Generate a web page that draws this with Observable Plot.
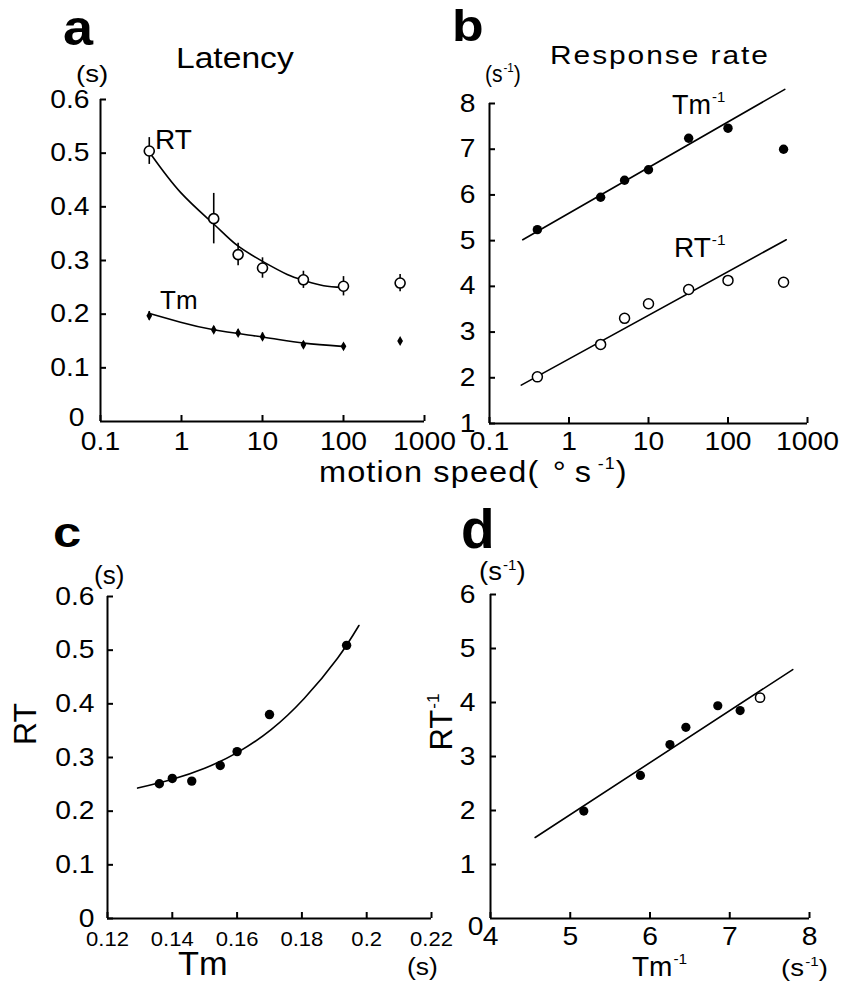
<!DOCTYPE html>
<html>
<head>
<meta charset="utf-8">
<script src="https://cdn.jsdelivr.net/npm/d3@7"></script>
<script src="https://cdn.jsdelivr.net/npm/@observablehq/plot@0.6"></script>
<style>
html, body { margin: 0; padding: 0; background: #fff; }
#fig { position: relative; width: 843px; height: 983px; overflow: hidden; background: #fff; color: #000;
       font-family: 'Liberation Sans', Arial, Helvetica, sans-serif; }
#fig svg { position: absolute; overflow: visible; max-width: none; background: transparent; }
.note { position: absolute; line-height: 0.72; white-space: nowrap; transform-origin: left top; }
.sup { font-size: 0.55em; position: relative; top: -0.78em; margin-left: 1px; }
</style>
</head>
<body>
<div id="fig"></div>
<script>
// ---------- data ----------
// panel a / b : motion speed (deg/s)
const speeds = [0.4, 2.5, 5, 10, 32, 100, 500];
// panel a : latency (s)
const rtLatency = [0.504, 0.378, 0.311, 0.286, 0.264, 0.252, 0.258];
const rtLatencyErr = [0.025, 0.047, 0.021, 0.019, 0.016, 0.018, 0.016];
const tmLatency = [0.197, 0.171, 0.165, 0.158, 0.143, 0.140, 0.150];
const tmLatencyErr = [0.008, 0.006, 0.006, 0.007, 0.006, 0.004, 0];
const rtFitSpeed = [0.414, 0.973, 2.5, 4.88, 10.4, 20.2, 32.4, 57, 96];
const rtFitLatency = [0.499, 0.427, 0.368, 0.328, 0.297, 0.274, 0.263, 0.253, 0.250];
const tmFitSpeed = [0.414, 0.973, 2.5, 10.4, 32.4, 96];
const tmFitLatency = [0.2007, 0.185, 0.171, 0.157, 0.146, 0.140];
// panel b : response rate (1/s)
const tmRate = [5.24, 5.95, 6.32, 6.55, 7.24, 7.46, 7.00];
const rtRate = [2.02, 2.73, 3.30, 3.62, 3.93, 4.13, 4.09];
const tmRateFitSpeed = [0.262, 518];
const tmRateFit = [5.02, 8.31];
const rtRateFitSpeed = [0.251, 540];
const rtRateFit = [1.84, 5.02];
// panel c : RT vs Tm (s)
const cTm = [0.136, 0.140, 0.146, 0.1548, 0.160, 0.170, 0.1938];
const cRT = [0.251, 0.261, 0.256, 0.285, 0.311, 0.380, 0.509];
const cFitTm = [0.1293, 0.1398, 0.150, 0.1603, 0.1705, 0.1807, 0.191, 0.1976];
const cFitRT = [0.243, 0.259, 0.280, 0.310, 0.352, 0.410, 0.485, 0.546];
// panel d : RT^-1 vs Tm^-1 (1/s)
const dTmRate = [5.17, 5.88, 6.25, 6.45, 6.85, 7.13];
const dRtRate = [1.99, 2.65, 3.22, 3.54, 3.94, 3.85];
const dOpenTmRate = [7.38];
const dOpenRtRate = [4.09];
const dFitTmRate = [4.56, 7.79];
const dFitRtRate = [1.50, 4.61];
// tick labels
const speedTicks = [0.1, 1, 10, 100, 1000];
const latencyTicks = [0, 0.1, 0.2, 0.3, 0.4, 0.5, 0.6];
const rateTicks = [1, 2, 3, 4, 5, 6, 7, 8];
const tmTicks = [0.12, 0.14, 0.16, 0.18, 0.2, 0.22];
const dXTicks = [4, 5, 6, 7, 8];
const dYTicks = [0, 1, 2, 3, 4, 5, 6];

// ---------- tables ----------
const latencyRows = speeds.map((s, i) => ({speed: s, rt: rtLatency[i], rtErr: rtLatencyErr[i], tm: tmLatency[i], tmErr: tmLatencyErr[i]}));
const rtFitRows = rtFitSpeed.map((s, i) => ({speed: s, v: rtFitLatency[i]}));
const tmFitRows = tmFitSpeed.map((s, i) => ({speed: s, v: tmFitLatency[i]}));
const rateRows = speeds.map((s, i) => ({speed: s, tm: tmRate[i], rt: rtRate[i]}));
const tmRateFitRows = tmRateFitSpeed.map((s, i) => ({speed: s, v: tmRateFit[i]}));
const rtRateFitRows = rtRateFitSpeed.map((s, i) => ({speed: s, v: rtRateFit[i]}));
const cRows = cTm.map((t, i) => ({tm: t, rt: cRT[i]}));
const cFitRows = cFitTm.map((t, i) => ({tm: t, rt: cFitRT[i]}));
const dRows = dTmRate.map((t, i) => ({tm: t, rt: dRtRate[i]}));
const dOpenRows = dOpenTmRate.map((t, i) => ({tm: t, rt: dOpenRtRate[i]}));
const dFitRows = dFitTmRate.map((t, i) => ({tm: t, rt: dFitRtRate[i]}));

// ---------- helpers ----------
const fig = document.getElementById("fig");
const FONT = "'Liberation Sans', Arial, Helvetica, sans-serif";
const fmt = d => String(d);
const baseStyle = {fontFamily: FONT, fontSize: "25px", background: "transparent", overflow: "visible", color: "black"};

function place(svg, left, top, kx = 1.13, ky = 1.13) {
  svg.style.position = "absolute";
  svg.style.left = left + "px";
  svg.style.top = top + "px";
  fig.appendChild(svg);
  const widen = (sel, k) => svg.querySelectorAll(sel).forEach(t => {
    const L = t.getComputedTextLength();
    t.setAttribute("textLength", (L * k).toFixed(2));
    t.setAttribute("lengthAdjust", "spacingAndGlyphs");
  });
  widen('g[aria-label="x-axis tick label"] text', kx);
  widen('g[aria-label="y-axis tick label"] text', ky);
}

// baseline offset for line-height 0.72 with Liberation Sans metrics
const BASE = (0.72 - 1.117) / 2 + 0.905;
function note(html, x, base, size, opt = {}) {
  const d = document.createElement("div");
  d.className = "note";
  d.innerHTML = html;
  d.style.left = x + "px";
  d.style.top = (base - BASE * size) + "px";
  d.style.fontSize = size + "px";
  d.style.fontWeight = opt.bold ? "bold" : "normal";
  if (opt.ls) d.style.letterSpacing = opt.ls + "px";
  d.style.transform = `scaleX(${opt.sx || 1})`;
  fig.appendChild(d);
}
function vnote(html, cx, cy, size, sx = 1) {
  const d = document.createElement("div");
  d.className = "note";
  d.style.lineHeight = "1";
  d.innerHTML = html;
  d.style.left = cx + "px";
  d.style.top = cy + "px";
  d.style.fontSize = size + "px";
  d.style.transformOrigin = "center center";
  d.style.transform = `translate(-50%, -50%) rotate(-90deg) scaleX(${sx})`;
  fig.appendChild(d);
}
const SUP = '<span class="sup">-1</span>';

// ---------- panel a : Latency ----------
const pa = Plot.plot({
  width: 440, height: 470,
  marginLeft: 100, marginRight: 16, marginTop: 99, marginBottom: 49,
  style: baseStyle,
  x: {type: "log", domain: [0.1, 1000]},
  y: {domain: [0, 0.6]},
  marks: [
    Plot.axisX({ticks: speedTicks, tickFormat: fmt, tickSize: -6, tickPadding: 17, strokeWidth: 2, label: null}),
    Plot.axisY({ticks: latencyTicks.slice(1), tickFormat: fmt, tickSize: -6, tickPadding: 17, strokeWidth: 2, label: null}),
    Plot.axisY({ticks: latencyTicks.slice(0, 1), tickFormat: fmt, tickSize: 0, tickPadding: 16, dy: -4, label: null}),
    Plot.ruleY([0], {strokeWidth: 2}),
    Plot.ruleX([0.1], {strokeWidth: 2}),
    Plot.line(rtFitRows, {x: "speed", y: "v", curve: "natural", strokeWidth: 1.6}),
    Plot.line(tmFitRows, {x: "speed", y: "v", curve: "natural", strokeWidth: 1.6}),
    Plot.ruleX(latencyRows, {x: "speed", y1: d => d.rt - d.rtErr, y2: d => d.rt + d.rtErr, strokeWidth: 1.6}),
    Plot.dot(latencyRows, {x: "speed", y: "rt", r: 5, fill: "white", stroke: "black", strokeWidth: 1.6}),
    Plot.ruleX(latencyRows.filter(d => d.tmErr > 0), {x: "speed", y1: d => d.tm - d.tmErr, y2: d => d.tm + d.tmErr, strokeWidth: 1.6}),
    Plot.dot(latencyRows, {x: "speed", y: "tm", r: 3, symbol: "diamond", fill: "black"})
  ]
});
place(pa, 0, 0);

// ---------- panel b : Response rate ----------
const pb = Plot.plot({
  width: 423, height: 470,
  marginLeft: 69, marginRight: 36, marginTop: 103, marginBottom: 47,
  style: baseStyle,
  x: {type: "log", domain: [0.1, 1000]},
  y: {domain: [1, 8]},
  marks: [
    Plot.axisX({ticks: speedTicks, tickFormat: fmt, tickSize: -6, tickPadding: 15, strokeWidth: 2, label: null}),
    Plot.axisY({ticks: rateTicks, tickFormat: fmt, tickSize: -6, tickPadding: 20, strokeWidth: 2, label: null}),
    Plot.ruleY([1], {strokeWidth: 2}),
    Plot.ruleX([0.1], {strokeWidth: 2}),
    Plot.line(tmRateFitRows, {x: "speed", y: "v", strokeWidth: 1.6}),
    Plot.line(rtRateFitRows, {x: "speed", y: "v", strokeWidth: 1.6}),
    Plot.dot(rateRows, {x: "speed", y: "tm", r: 4.7, fill: "black"}),
    Plot.dot(rateRows, {x: "speed", y: "rt", r: 5, fill: "white", stroke: "black", strokeWidth: 1.5})
  ]
});
place(pb, 420, 0);

// ---------- panel c : RT vs Tm ----------
const pc = Plot.plot({
  width: 440, height: 493,
  marginLeft: 107, marginRight: 9, marginTop: 106, marginBottom: 65,
  style: baseStyle,
  x: {domain: [0.12, 0.22]},
  y: {domain: [0, 0.6]},
  marks: [
    Plot.axisX({ticks: tmTicks, tickFormat: fmt, tickSize: -6, tickPadding: 19, strokeWidth: 2, label: null, fontSize: 21}),
    Plot.axisY({ticks: latencyTicks, tickFormat: fmt, tickSize: -6, tickPadding: 19, strokeWidth: 2, label: null}),
    Plot.ruleY([0], {strokeWidth: 2}),
    Plot.ruleX([0.12], {strokeWidth: 2}),
    Plot.line(cFitRows, {x: "tm", y: "rt", curve: "natural", strokeWidth: 1.6}),
    Plot.dot(cRows, {x: "tm", y: "rt", r: 4.7, fill: "black"})
  ]
});
place(pc, 0, 490, 1.05, 1.13);

// ---------- panel d : RT^-1 vs Tm^-1 ----------
const pd = Plot.plot({
  width: 423, height: 493,
  marginLeft: 70, marginRight: 34, marginTop: 104, marginBottom: 65,
  style: baseStyle,
  x: {domain: [4, 8]},
  y: {domain: [0, 6]},
  marks: [
    Plot.axisX({ticks: dXTicks, tickFormat: fmt, tickSize: -6, tickPadding: 15, strokeWidth: 2, label: null}),
    Plot.axisY({ticks: dYTicks.slice(1), tickFormat: fmt, tickSize: -6, tickPadding: 21, strokeWidth: 2, label: null}),
    Plot.axisY({ticks: dYTicks.slice(0, 1), tickFormat: fmt, tickSize: 0, tickPadding: 7, dy: 8, label: null}),
    Plot.ruleY([0], {strokeWidth: 2}),
    Plot.ruleX([4], {strokeWidth: 2}),
    Plot.line(dFitRows, {x: "tm", y: "rt", strokeWidth: 1.6}),
    Plot.dot(dRows, {x: "tm", y: "rt", r: 4.6, fill: "black"}),
    Plot.dot(dOpenRows, {x: "tm", y: "rt", r: 4.6, fill: "white", stroke: "black", strokeWidth: 1.5})
  ]
});
place(pd, 420, 490);

// ---------- annotations ----------
note("a", 63, 45, 50, {bold: true, sx: 1.08});
note("b", 452, 42, 45, {bold: true, sx: 1.15});
note("c", 53, 547, 43, {bold: true, sx: 1.18});
note("d", 461, 549, 55, {bold: true});

note("Latency", 176, 68, 30, {sx: 1.12});
note("Response rate", 550, 64, 26, {sx: 1.15, ls: 1.7});
note("(s)", 76, 82, 24, {sx: 1.15});
note("(s" + SUP + ")", 485, 82, 24, {sx: 0.88});
note('motion speed(<span style="margin-left:12px">°</span><span style="margin-left:7px">s</span><span class="sup" style="margin-left:5px">-1</span>)', 319, 482, 29, {sx: 1.12, ls: 1});

note("RT", 155, 150, 28);
note("Tm", 160, 309, 26);
note("Tm" + SUP, 672, 115, 27);
note("RT" + SUP, 674, 258, 28);

note("(s)", 94, 584, 26);
vnote("RT", 25, 724, 32);
note("Tm", 178, 975.5, 33, {sx: 1.04});
note("(s)", 407, 975, 23, {sx: 1.15});

note("(s" + SUP + ")", 479, 580, 25, {sx: 1.1});
vnote("RT" + SUP, 441, 722, 31);
note("Tm" + SUP, 632, 977, 28);
note("(s" + SUP + ")", 781, 976, 24, {sx: 1.15});
</script>
</body>
</html>
